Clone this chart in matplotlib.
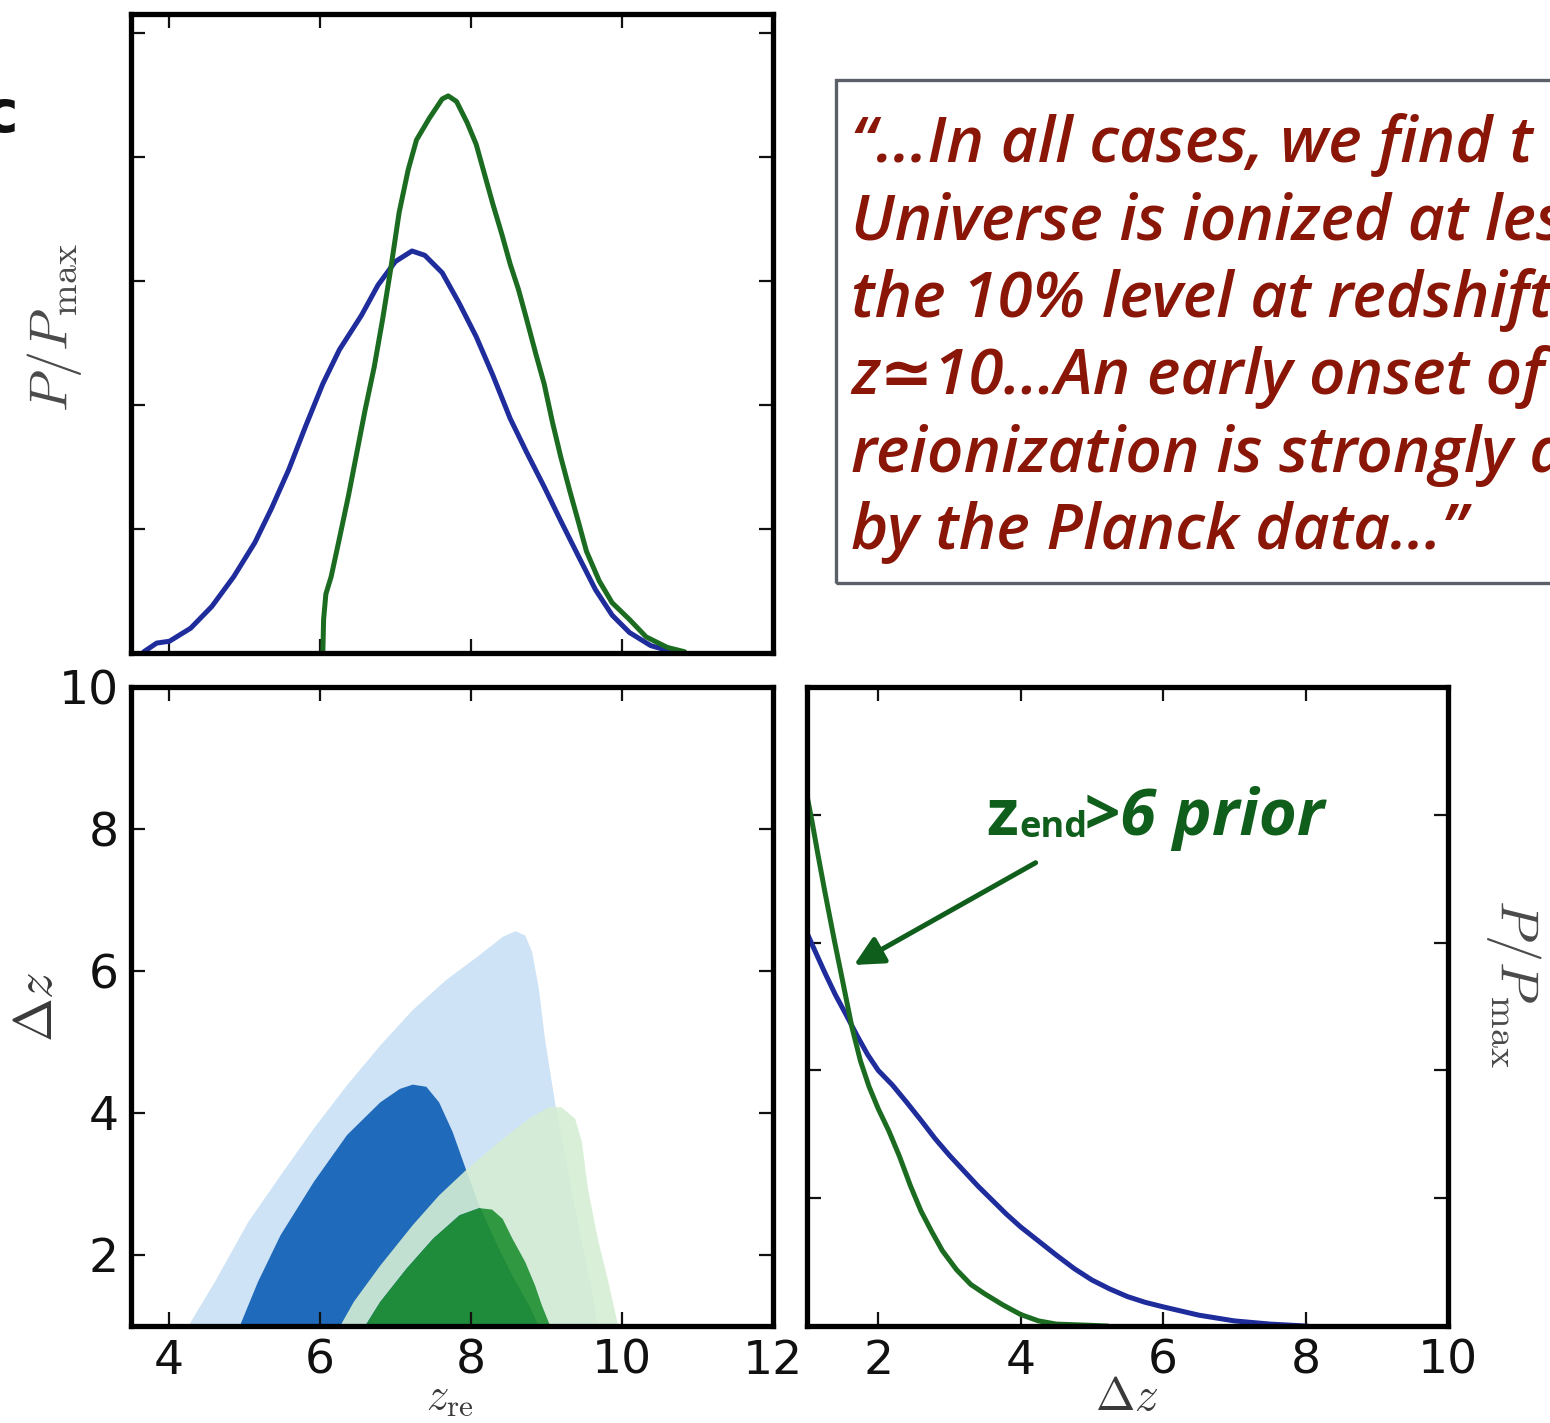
import matplotlib
matplotlib.use("Agg")
import matplotlib.pyplot as plt
from matplotlib.patches import Rectangle, PathPatch
from matplotlib.path import Path

plt.rcParams['mathtext.fontset'] = 'cm'

# marginal posterior of z_re (top panel)
zre_blue_x = [3.67, 3.84, 4.01, 4.29, 4.57, 4.86, 5.14, 5.36, 5.59, 5.81, 6.04, 6.26, 6.55, 6.77,
              7.00, 7.22, 7.39, 7.62, 7.84, 8.07, 8.29, 8.52, 8.74, 8.97, 9.19, 9.42, 9.65, 9.87,
              10.10, 10.38, 10.66]
zre_blue_y = [0.002, 0.016, 0.019, 0.040, 0.075, 0.123, 0.178, 0.233, 0.296, 0.365, 0.434, 0.489,
              0.544, 0.593, 0.631, 0.648, 0.641, 0.613, 0.565, 0.510, 0.448, 0.378, 0.323, 0.268,
              0.213, 0.157, 0.102, 0.061, 0.033, 0.012, 0.002]
zre_green_x = [6.04, 6.05, 6.08, 6.15, 6.26, 6.38, 6.49, 6.60, 6.72, 6.83, 6.94, 7.05, 7.17, 7.28,
               7.45, 7.62, 7.70, 7.81, 7.95, 8.07, 8.18, 8.29, 8.41, 8.52, 8.63, 8.74, 8.86, 8.97,
               9.08, 9.19, 9.31, 9.42, 9.53, 9.70, 9.87, 10.10, 10.32, 10.60, 10.83]
zre_green_y = [0.0, 0.054, 0.095, 0.123, 0.185, 0.254, 0.323, 0.392, 0.461, 0.537, 0.620, 0.710,
               0.779, 0.827, 0.862, 0.893, 0.898, 0.889, 0.855, 0.820, 0.772, 0.724, 0.675, 0.627,
               0.586, 0.537, 0.482, 0.434, 0.372, 0.316, 0.261, 0.213, 0.164, 0.116, 0.081, 0.054,
               0.026, 0.009, 0.002]

# marginal posterior of delta z (bottom right panel)
dz_blue_x = [1.00, 1.10, 1.25, 1.40, 1.55, 1.70, 1.85, 2.00, 2.20, 2.40, 2.60, 2.80, 3.00, 3.20,
             3.40, 3.60, 3.80, 4.00, 4.25, 4.50, 4.75, 5.00, 5.25, 5.50, 5.75, 6.00, 6.50, 7.00,
             7.50, 8.00]
dz_blue_y = [0.615, 0.590, 0.553, 0.518, 0.487, 0.455, 0.425, 0.400, 0.377, 0.350, 0.322, 0.293,
             0.267, 0.243, 0.219, 0.197, 0.175, 0.155, 0.133, 0.111, 0.090, 0.072, 0.058, 0.046,
             0.037, 0.030, 0.017, 0.008, 0.003, 0.0]
dz_green_x = [1.00, 1.07, 1.15, 1.25, 1.39, 1.50, 1.63, 1.75, 1.87, 2.00, 2.15, 2.30, 2.45, 2.60,
              2.75, 2.90, 3.10, 3.30, 3.50, 3.75, 4.00, 4.25, 4.50, 5.00, 5.20]
dz_green_y = [0.830, 0.790, 0.740, 0.680, 0.600, 0.540, 0.468, 0.415, 0.375, 0.340, 0.305, 0.265,
              0.220, 0.180, 0.148, 0.118, 0.088, 0.065, 0.050, 0.033, 0.018, 0.008, 0.003, 0.001,
              0.0]

# 2D confidence regions (z_re, delta z)
blue95_x = [4.26, 4.61, 5.05, 5.48, 5.92, 6.36, 6.80, 7.23, 7.67, 8.11, 8.42, 8.59, 8.72, 8.81,
            8.90, 8.98, 9.07, 9.12, 9.25, 9.42, 9.60, 9.68]
blue95_y = [1.0, 1.62, 2.46, 3.12, 3.78, 4.39, 4.95, 5.45, 5.87, 6.22, 6.48, 6.56, 6.50, 6.27,
            5.75, 5.05, 4.44, 4.11, 3.40, 2.46, 1.53, 1.0]
blue68_x = [4.94, 5.18, 5.48, 5.92, 6.36, 6.80, 7.06, 7.23, 7.41, 7.58, 7.76, 7.93, 8.11, 8.37,
            8.55, 8.77, 8.90]
blue68_y = [1.0, 1.62, 2.28, 3.03, 3.69, 4.15, 4.34, 4.40, 4.37, 4.15, 3.73, 3.22, 2.70, 2.09,
            1.71, 1.29, 1.0]
green95_x = [6.27, 6.45, 6.80, 7.23, 7.58, 7.93, 8.37, 8.77, 9.03, 9.20, 9.38, 9.47, 9.55, 9.68,
             9.82, 9.95]
green95_y = [1.0, 1.34, 1.85, 2.42, 2.84, 3.19, 3.59, 3.92, 4.08, 4.08, 3.92, 3.59, 2.93, 2.23,
             1.62, 1.0]
green68_x = [6.60, 6.80, 7.15, 7.50, 7.85, 8.11, 8.28, 8.42, 8.55, 8.72, 8.85, 8.94, 9.05]
green68_y = [1.0, 1.34, 1.81, 2.23, 2.56, 2.66, 2.64, 2.51, 2.23, 1.90, 1.57, 1.29, 1.0]

zre_ticks = [4, 6, 8, 10, 12]
dz_ticks = [2, 4, 6, 8, 10]
p_ticks = [0, 0.2, 0.4, 0.6, 0.8, 1.0]

quote_lines = [
    "\u201c...In all cases, we find t",
    "Universe is ionized at les",
    "the 10% level at redshift",
    "z\u224310...An early onset of",
    "reionization is strongly d",
    "by the Planck data...\u201d",
]

W, H = 1550, 1423
BLUE = '#1f2c9c'
GREEN = '#1b6c20'
QUOTE_RED = '#8a1608'
NOTE_GREEN = '#0f5e1b'
LABEL_GRAY = '#3a3a3a'

fig = plt.figure(figsize=(W / 100, H / 100), dpi=100)


def add_ax(left, top, right, bottom):
    return fig.add_axes([left / W, 1 - bottom / H, (right - left) / W, (bottom - top) / H])


def style(ax):
    for sp in ax.spines.values():
        sp.set_linewidth(3.8)
        sp.set_zorder(5)
    ax.tick_params(direction='in', length=10, width=1.6, top=True, right=True,
                   labelsize=34, pad=9, colors='#111111')


def band(ax, outer_x, outer_y, inner_x, inner_y, **kw):
    # region between two closed contours (outer ring minus inner ring)
    outer = list(zip(outer_x, outer_y))
    inner = list(zip(inner_x, inner_y))[::-1]
    verts = outer + [outer[0]] + inner + [inner[0]]
    codes = ([Path.MOVETO] + [Path.LINETO] * (len(outer) - 1) + [Path.CLOSEPOLY] +
             [Path.MOVETO] + [Path.LINETO] * (len(inner) - 1) + [Path.CLOSEPOLY])
    ax.add_patch(PathPatch(Path(verts, codes), lw=0, **kw))


ax_top = add_ax(131, 14, 773, 653)
ax_2d = add_ax(131, 687, 773, 1326)
ax_dz = add_ax(807, 687, 1448, 1326)

# top: z_re marginal
ax_top.plot(zre_blue_x, zre_blue_y, color=BLUE, lw=3.6, solid_capstyle='round')
ax_top.plot(zre_green_x, zre_green_y, color=GREEN, lw=3.6, solid_capstyle='round')
ax_top.set_xlim(3.5, 12)
ax_top.set_ylim(0, 1.03)
ax_top.set_xticks(zre_ticks)
ax_top.set_yticks(p_ticks)
style(ax_top)
ax_top.tick_params(labelbottom=False, labelleft=False)

# bottom left: filled contours
band(ax_2d, blue95_x, blue95_y, blue68_x, blue68_y, facecolor='#cee3f5')
ax_2d.fill(blue68_x, blue68_y, color='#1f6aba', lw=0)
band(ax_2d, green95_x, green95_y, green68_x, green68_y, facecolor='#d5eed4', alpha=0.9)
ax_2d.fill(green68_x, green68_y, color='#1e902c', alpha=0.9, lw=0)
ax_2d.set_xlim(3.5, 12)
ax_2d.set_ylim(1, 10)
ax_2d.set_xticks(zre_ticks)
ax_2d.set_yticks([2, 4, 6, 8, 10])
style(ax_2d)

# bottom right: delta z marginal
ax_dz.plot(dz_blue_x, dz_blue_y, color=BLUE, lw=3.6)
ax_dz.plot(dz_green_x, dz_green_y, color=GREEN, lw=3.6)
ax_dz.set_xlim(1, 10)
ax_dz.set_ylim(0, 1.0)
ax_dz.set_xticks(dz_ticks)
ax_dz.set_yticks(p_ticks)
style(ax_dz)
ax_dz.tick_params(labelleft=False)

ax_dz.annotate('', xy=(1.66, 0.565), xytext=(4.21, 0.725),
               arrowprops=dict(arrowstyle='-|>', color=NOTE_GREEN, lw=3.6,
                               mutation_scale=44, shrinkA=0, shrinkB=0))

# axis labels
fig.text(55 / W, 1 - 328 / H, r'$P/P_{\rm max}$', rotation=90, ha='center', va='center',
         fontsize=39, color='#4a4a4a')
fig.text(1513 / W, 1 - 983 / H, r'$P/P_{\rm max}$', rotation=270, ha='center', va='center',
         fontsize=39, color='#4a4a4a')
fig.text(37 / W, 1 - 1007 / H, r'$\Delta z$', rotation=90, ha='center', va='center',
         fontsize=38, color=LABEL_GRAY)
fig.text(450 / W, 1 - 1408 / H, r'$z_{\rm re}$', ha='center', va='baseline',
         fontsize=32, color=LABEL_GRAY)
fig.text(1127 / W, 1 - 1410 / H, r'$\Delta z$', ha='center', va='baseline',
         fontsize=34, color=LABEL_GRAY)

# annotation text
fig.text(986 / W, 1 - 835 / H, 'z', fontsize=47, family='Open Sans', weight='bold',
         color=NOTE_GREEN, va='baseline')
fig.text(1019 / W, 1 - 837 / H, 'end', fontsize=26, family='Open Sans', weight='bold',
         color=NOTE_GREEN, va='baseline')
fig.text(1084 / W, 1 - 835 / H, '>6 prior', fontsize=47, family='Open Sans', weight='bold',
         style='italic', color=NOTE_GREEN, va='baseline')

# quote box
fig.add_artist(Rectangle((836 / W, 1 - 583 / H), 760 / W, 503 / H, transform=fig.transFigure,
                         fill=False, ec='#5b6068', lw=2.4))
for i, line in enumerate(quote_lines):
    fig.text(851 / W, 1 - (162 + i * 77.4) / H, line, fontsize=46,
             family=['Open Sans', 'DejaVu Sans'], weight='semibold', style='italic',
             color=QUOTE_RED, va='baseline')

fig.text(18 / W, 1 - 132 / H, 'c', fontsize=42, family='DejaVu Sans', weight='bold',
         ha='right', va='baseline', color='#111111')

fig.savefig('out.png', dpi=100)
